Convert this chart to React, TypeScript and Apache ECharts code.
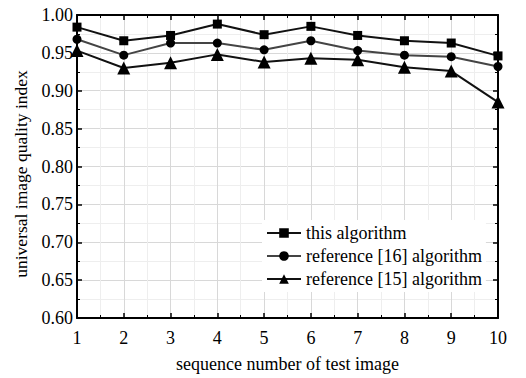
import React, { useEffect, useRef } from "react";
import * as echarts from "echarts";

const categories = [1, 2, 3, 4, 5, 6, 7, 8, 9, 10];
const thisAlgorithm = [0.984, 0.966, 0.973, 0.988, 0.974, 0.985, 0.973, 0.966, 0.963, 0.946];
const ref16Algorithm = [0.968, 0.947, 0.963, 0.963, 0.954, 0.966, 0.953, 0.947, 0.945, 0.932];
const ref15Algorithm = [0.953, 0.930, 0.937, 0.948, 0.938, 0.943, 0.941, 0.931, 0.926, 0.885];
const seriesNames = ["this algorithm", "reference [16] algorithm", "reference [15] algorithm"];
const yAxisTitle = "universal image quality index";
const xAxisTitle = "sequence number of test image";

const FONT = "Liberation Serif";

export default function App() {
  const ref = useRef<HTMLDivElement>(null);
  useEffect(() => {
    const chart = echarts.init(ref.current!, null, { renderer: "svg" });
    const pair = (arr: number[]) => categories.map((c, i) => [c, arr[i]]);
    const baseAxisLine = { show: true, lineStyle: { color: "#000", width: 2 } };
    const tick = { show: true, inside: true, length: 5, lineStyle: { color: "#000", width: 1.5 } };
    const minorTick = { show: true, splitNumber: 2, length: 3, lineStyle: { color: "#000", width: 1 } };
    chart.setOption({
      animation: false,
      backgroundColor: "#fff",
      grid: { left: 77, right: 28, top: 15, bottom: 57, containLabel: false },
      graphic: [
        {
          type: "text",
          x: 21,
          y: 174,
          rotation: Math.PI / 2,
          style: {
            text: yAxisTitle,
            fontFamily: FONT,
            fontSize: 17.5,
            fill: "#000",
            align: "center",
            verticalAlign: "middle",
          },
        },
      ],
      xAxis: [
        {
          type: "value",
          min: 1,
          max: 10,
          interval: 1,
          name: xAxisTitle,
          nameLocation: "middle",
          nameGap: 37,
          nameTextStyle: { fontFamily: FONT, fontSize: 18, color: "#000" },
          axisLine: baseAxisLine,
          axisTick: tick,
          minorTick,
          splitLine: { show: true, lineStyle: { color: "#d8d8d8", width: 1 } },
          minorSplitLine: { show: true, lineStyle: { color: "#eeeeee", width: 1 } },
          axisLabel: { fontFamily: FONT, fontSize: 18, color: "#000", margin: 11 },
        },
        {
          type: "value",
          position: "top",
          min: 1,
          max: 10,
          interval: 1,
          axisLine: baseAxisLine,
          axisTick: tick,
          minorTick,
          splitLine: { show: false },
          axisLabel: { show: false },
        },
      ],
      yAxis: [
        {
          type: "value",
          min: 0.6,
          max: 1.0,
          interval: 0.05,
          axisLine: baseAxisLine,
          axisTick: tick,
          minorTick,
          splitLine: { show: true, lineStyle: { color: "#d8d8d8", width: 1 } },
          minorSplitLine: { show: true, lineStyle: { color: "#eeeeee", width: 1 } },
          axisLabel: {
            fontFamily: FONT,
            fontSize: 18,
            color: "#000",
            margin: 4,
            formatter: (v: number) => v.toFixed(2),
          },
        },
        {
          type: "value",
          position: "right",
          min: 0.6,
          max: 1.0,
          interval: 0.05,
          axisLine: baseAxisLine,
          axisTick: tick,
          minorTick,
          splitLine: { show: false },
          axisLabel: { show: false },
        },
      ],
      legend: {
        orient: "vertical",
        left: 262,
        top: 220,
        itemWidth: 34,
        itemHeight: 12,
        itemGap: 5,
        padding: [4, 4, 4, 4],
        backgroundColor: "#fff",
        textStyle: { fontFamily: FONT, fontSize: 18, color: "#000" },
        data: seriesNames,
      },
      series: [
        {
          name: seriesNames[0],
          type: "line",
          data: pair(thisAlgorithm),
          symbol: "rect",
          symbolSize: 9,
          itemStyle: { color: "#000" },
          lineStyle: { color: "#111", width: 2 },
          z: 5,
        },
        {
          name: seriesNames[1],
          type: "line",
          data: pair(ref16Algorithm),
          symbol: "circle",
          symbolSize: 9,
          itemStyle: { color: "#000" },
          lineStyle: { color: "#444", width: 2 },
          z: 4,
        },
        {
          name: seriesNames[2],
          type: "line",
          data: pair(ref15Algorithm),
          symbol: "triangle",
          symbolSize: 13,
          itemStyle: { color: "#000" },
          lineStyle: { color: "#111", width: 2 },
          z: 3,
        },
      ],
    });
    return () => chart.dispose();
  }, []);
  return <div ref={ref} style={{ width: 526, height: 378, position: "absolute", left: 0, top: 0 }} />;
}
